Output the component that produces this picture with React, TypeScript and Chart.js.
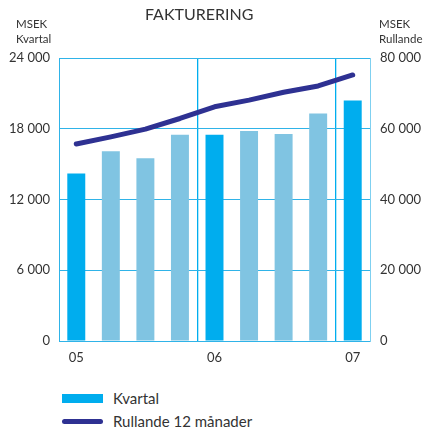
import React, { useEffect, useRef } from "react";
import { Chart, registerables } from "chart.js";

Chart.register(...registerables);

const categories = ["05", "", "", "", "06", "", "", "", "07"];
const kvartal = [14200, 16100, 15500, 17500, 17500, 17800, 17550, 19300, 20400];
const rullande = [55700, 57700, 59900, 62900, 66200, 68100, 70300, 72100, 75200];
const leftTicks = [0, 6000, 12000, 18000, 24000];
const rightTicks = [0, 20000, 40000, 60000, 80000];
const darkBars = [0, 4, 8];
const yearStarts = [4, 8];

const DARK = "#00adee";
const LIGHT = "#80c4e2";
const LINE = "#2e3192";
const GRID = "#2fb3e8";
const VGRID = "#00aeef";
const TEXT = "#333333";
const FONT = "Lato";

const fmt = (v: number) => String(v).replace(/\B(?=(\d{3})+(?!\d))/g, " ");

export default function App() {
  const ref = useRef<HTMLCanvasElement | null>(null);

  useEffect(() => {
    if (!ref.current) return;
    const chart = new Chart(ref.current, {
      type: "bar",
      data: {
        labels: categories,
        datasets: [
          {
            type: "line",
            label: "Rullande 12 månader",
            data: rullande,
            yAxisID: "y2",
            borderColor: LINE,
            borderWidth: 5,
            pointRadius: 0,
            tension: 0,
            borderCapStyle: "round",
            borderJoinStyle: "round",
            order: 0,
          } as any,
          {
            type: "bar",
            label: "Kvartal",
            data: kvartal,
            yAxisID: "y",
            backgroundColor: kvartal.map((_, i) => (darkBars.includes(i) ? DARK : LIGHT)),
            borderWidth: 0,
            barPercentage: 0.52,
            categoryPercentage: 1,
            order: 1,
          },
        ],
      },
      options: {
        responsive: false,
        animation: false,
        layout: { padding: { top: 58, left: 8, right: 0, bottom: 0 } },
        plugins: { legend: { display: false }, title: { display: false }, tooltip: { enabled: false } },
        scales: {
          x: {
            type: "category",
            offset: true,
            afterFit: (s: any) => {
              s.height = 37;
            },
            grid: {
              offset: true,
              drawTicks: false,
              lineWidth: (ctx: any) => (yearStarts.includes(ctx.index) ? 1.3 : 0),
              color: VGRID,
            },
            border: { display: true, color: GRID, width: 1 },
            ticks: {
              autoSkip: false,
              maxRotation: 0,
              padding: 9,
              color: TEXT,
              font: { family: FONT, size: 13 },
            },
          },
          y: {
            position: "left",
            min: 0,
            max: 24000,
            afterBuildTicks: (s: any) => {
              s.ticks = leftTicks.map((v) => ({ value: v }));
            },
            afterFit: (s: any) => {
              s.width = 51;
            },
            grid: { color: GRID, lineWidth: 1, drawTicks: false },
            border: { display: true, color: GRID, width: 1 },
            ticks: {
              padding: 9,
              color: TEXT,
              font: { family: FONT, size: 13 },
              callback: (v: any) => fmt(Number(v)),
            },
          },
          y2: {
            position: "right",
            min: 0,
            max: 80000,
            afterBuildTicks: (s: any) => {
              s.ticks = rightTicks.map((v) => ({ value: v }));
            },
            afterFit: (s: any) => {
              s.width = 54;
            },
            grid: { display: false, drawTicks: false },
            border: { display: true, color: "#7fd0f0", width: 1 },
            ticks: {
              padding: 10,
              color: TEXT,
              font: { family: FONT, size: 13 },
              callback: (v: any) => fmt(Number(v)),
            },
          },
        },
      },
    });
    return () => chart.destroy();
  }, []);

  const txt: React.CSSProperties = {
    position: "absolute",
    fontFamily: FONT,
    color: TEXT,
    whiteSpace: "nowrap",
  };

  return (
    <div
      style={{
        position: "fixed",
        left: 0,
        top: 0,
        width: 424,
        height: 432,
        overflow: "hidden",
        background: "#ffffff",
      }}
    >
      <canvas
        ref={ref}
        width={424}
        height={378}
        style={{ position: "absolute", left: 0, top: 0, display: "block", width: 424, height: 378 }}
      />
      <div style={{ ...txt, left: 145, top: 6, fontSize: 16, lineHeight: "16px" }}>FAKTURERING</div>
      <div style={{ ...txt, left: 16, top: 17, fontSize: 11.5, lineHeight: "14.5px" }}>
        MSEK
        <br />
        Kvartal
      </div>
      <div style={{ ...txt, left: 379, top: 17, fontSize: 11.5, lineHeight: "14.5px" }}>
        MSEK
        <br />
        Rullande
      </div>
      <div style={{ position: "absolute", left: 62, top: 394, width: 41, height: 9, background: DARK }} />
      <div style={{ ...txt, left: 113, top: 391, fontSize: 15, lineHeight: "15px" }}>Kvartal</div>
      <div
        style={{ position: "absolute", left: 62, top: 418.5, width: 41, height: 5, borderRadius: 2.5, background: LINE }}
      />
      <div style={{ ...txt, left: 113, top: 414, fontSize: 15, lineHeight: "15px" }}>Rullande 12 månader</div>
    </div>
  );
}
